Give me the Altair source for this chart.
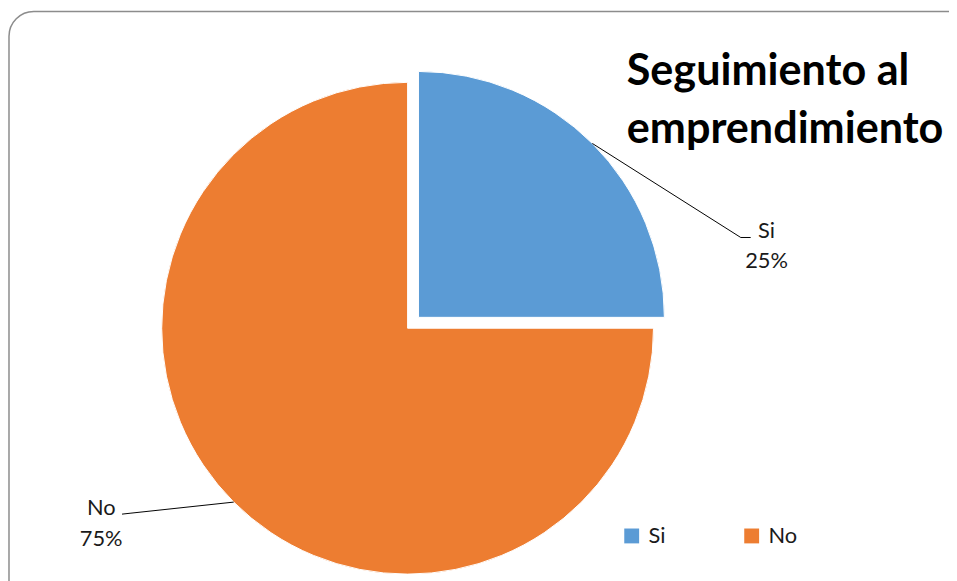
import altair as alt
import pandas as pd
import numpy as np

# ---- data ----
categories = ["Si", "No"]
values = [25, 75]
percent_labels = ["25%", "75%"]
title_lines = ["Seguimiento al", "emprendimiento"]
colors = ["#5B9BD5", "#ED7D31"]

# ---- layout (pixels) ----
W, H = 949, 573
CX, CY, R = 403, 320.5, 248
EXPLODE = {"Si": 15.5, "No": 0.0}
LABEL_LAYOUT = {
    "Si": {"elbow": (739, 229), "end": (749, 229), "text": (765, 230), "lh": 30},
    "No": {"elbow": (124, 507), "end": (115, 508), "text": (94, 509), "lh": 31},
}
FONT = "Lato"

total = float(sum(values))
ends = np.cumsum(values).astype(float)
starts = ends - np.array(values, dtype=float)
df = pd.DataFrame({"cat": categories, "value": values, "start": starts,
                   "end": ends, "pct": percent_labels})
df["label"] = df["cat"] + "\n" + df["pct"]

theta_scale = alt.Scale(domain=[0, total], range=[0, 2 * np.pi])
color_scale = alt.Scale(domain=categories, range=colors)
xs = alt.Scale(domain=[0, W], range=[0, W], nice=False, zero=False)
ys = alt.Scale(domain=[0, H], range=[0, H], nice=False, zero=False)

legend = alt.Legend(orient="none", legendX=618, legendY=519, direction="horizontal",
                    title=None, symbolType="square", symbolSize=225, symbolStrokeWidth=0,
                    labelFontSize=22, labelFont=FONT, labelOffset=6, columnPadding=75,
                    labelColor="#1a1a1a")

# slice centers & leader-line anchors from the data
centers = {}
line_rows = []
label_rows = []
for i, cat in enumerate(categories):
    mid = (starts[i] + ends[i]) / 2.0 / total * 2 * np.pi
    e = EXPLODE[cat]
    cx = CX + e * np.sin(mid)
    cy = CY - e * np.cos(mid)
    centers[cat] = (cx, cy)
    ax = cx + R * np.sin(mid)
    ay = cy - R * np.cos(mid)
    lay = LABEL_LAYOUT[cat]
    line_rows += [
        {"cat": cat, "o": 0, "x": ax, "y": ay},
        {"cat": cat, "o": 1, "x": lay["elbow"][0], "y": lay["elbow"][1]},
        {"cat": cat, "o": 2, "x": lay["end"][0], "y": lay["end"][1]},
    ]
    label_rows.append({"cat": cat, "label": df.loc[i, "label"],
                       "x": lay["text"][0], "y": lay["text"][1]})

lines_df = pd.DataFrame(line_rows)

border = alt.Chart(pd.DataFrame({"a": [0]})).mark_rect(
    fillOpacity=0, stroke="#8c8c8c", strokeWidth=1.5, cornerRadius=25
).encode(x=alt.value(1), x2=alt.value(W + 40), y=alt.value(1), y2=alt.value(H + 40))

arcs = []
for cat in categories:
    cx, cy = centers[cat]
    arcs.append(
        alt.Chart(df).transform_filter(alt.FieldEqualPredicate(field="cat", equal=cat))
        .mark_arc(outerRadius=R, stroke="white", strokeWidth=1)
        .encode(
            theta=alt.Theta("start:Q", scale=theta_scale),
            theta2="end:Q",
            color=alt.Color("cat:N", scale=color_scale, legend=legend),
            x=alt.value(cx), y=alt.value(cy),
        )
    )

lines = alt.Chart(lines_df).mark_line(color="black", strokeWidth=1).encode(
    x=alt.X("x:Q", scale=xs, axis=None),
    y=alt.Y("y:Q", scale=ys, axis=None),
    detail="cat:N",
    order="o:Q",
)

labels = []
for row in label_rows:
    labels.append(
        alt.Chart(pd.DataFrame([row])).mark_text(
            lineBreak="\n", lineHeight=LABEL_LAYOUT[row["cat"]]["lh"], align="center",
            baseline="alphabetic", font=FONT, fontSize=22, color="#1a1a1a"
        ).encode(x=alt.X("x:Q", scale=xs, axis=None), y=alt.Y("y:Q", scale=ys, axis=None),
                 text="label:N")
    )

title = alt.Chart(pd.DataFrame({"a": [0]})).mark_text(
    text=title_lines, font=FONT, fontWeight="bold", fontSize=43.5, align="left",
    baseline="alphabetic", lineHeight=59, color="black"
).encode(x=alt.value(624), y=alt.value(75))

chart = alt.layer(border, *arcs, lines, *labels, title).properties(
    width=W, height=H, autosize=alt.AutoSizeParams(type="none"), padding=0,
    background="white"
).configure_view(stroke=None)

chart.save("out.html", embed_options={"renderer": "svg", "actions": False})
